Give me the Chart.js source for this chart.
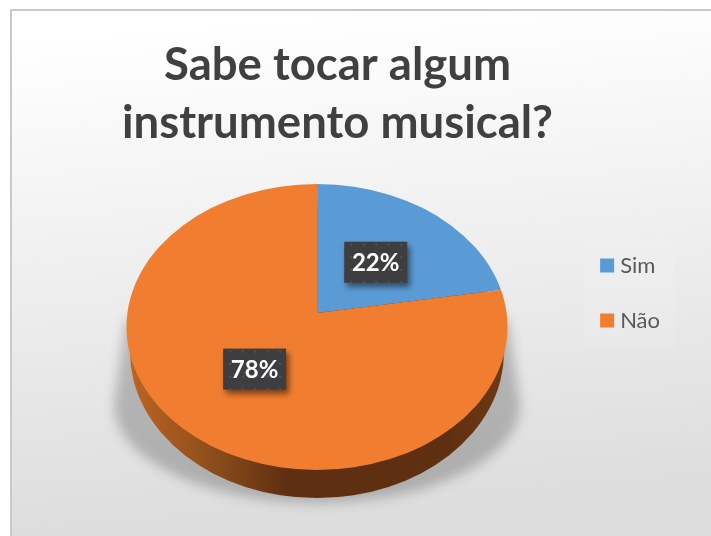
<!DOCTYPE html>
<html><head><meta charset="utf-8">
<style>html,body{margin:0;padding:0;background:#fff}canvas{display:block}</style>
<script src="https://cdn.jsdelivr.net/npm/chart.js@4"></script>
</head><body>
<div style="width:711px;height:536px"><canvas id="c" width="711" height="536"></canvas></div>
<script>
const categories = ['Sim', 'Não'];
const seriesValues = [22, 78];
const sliceColors = ['#5b9bd5', '#f17e30'];
const titleLines = ['Sabe tocar algum', 'instrumento musical?'];

const PIE = {cy: 313, sy: 0.66, rimCx: 317, rimCy: 327, rimRx: 190.5, rimRy: 143};
const labelRadii = [92, 98];

const scene = {
  id: 'scene',
  beforeDraw(chart) {
    const c = chart.ctx;
    c.save();
    c.fillStyle = '#fff'; c.fillRect(0, 0, 711, 536);
    const g = c.createLinearGradient(0, 40, 40, 536);
    g.addColorStop(0, '#ffffff'); g.addColorStop(0.5, '#eeeeee'); g.addColorStop(1, '#dddddd');
    c.fillStyle = g; c.fillRect(11, 10, 700, 526);
    c.fillStyle = '#c9c9c9';
    c.fillRect(10, 9, 701, 2);
    c.fillRect(10, 9, 2, 527);
    c.fillStyle = 'rgba(255,255,255,0.1)';
    c.fillRect(584, 238, 91, 111);
    c.restore();
  },
  beforeDatasetsDraw(chart) {
    const c = chart.ctx;
    const area = chart.getDatasetMeta(0).data[0];
    // soft floor shadow
    c.save();
    c.filter = 'blur(6px)';
    c.fillStyle = 'rgba(0,0,0,0.22)';
    c.beginPath();
    c.moveTo(126, 320); c.lineTo(114, 405);
    c.ellipse(317, 405, 203, 98, 0, Math.PI, 0, true);
    c.lineTo(508, 320); c.closePath(); c.fill();
    c.restore();
    // side wall
    c.save();
    const s = c.createLinearGradient(130, 0, 505, 0);
    s.addColorStop(0, '#bd6323'); s.addColorStop(0.2, '#91501c');
    s.addColorStop(0.42, '#5f2f11'); s.addColorStop(0.85, '#5f2f11'); s.addColorStop(1, '#6e3a14');
    c.fillStyle = s;
    c.beginPath();
    c.ellipse(317, 352, 187, 146, 0, 0, Math.PI * 2);
    c.fill();
    c.restore();
    // top face: slices are clipped to the rim and squashed
    c.save();
    c.beginPath();
    c.ellipse(PIE.rimCx, PIE.rimCy, PIE.rimRx, PIE.rimRy, 0, 0, Math.PI * 2);
    c.clip();
    c.translate(area.x, PIE.cy);
    c.scale(1, PIE.sy);
    c.translate(-area.x, -area.y);
  },
  afterDatasetsDraw(chart) {
    const c = chart.ctx;
    c.restore();
    const arcs = chart.getDatasetMeta(0).data;
    arcs.forEach((a, i) => {
      const mid = (a.startAngle + a.endAngle) / 2;
      const x = a.x + labelRadii[i] * Math.cos(mid);
      const y = PIE.cy + 1 + labelRadii[i] * 0.73 * Math.sin(mid);
      const w = 63, h = 41;
      c.save();
      c.shadowColor = 'rgba(0,0,0,0.5)'; c.shadowBlur = 6; c.shadowOffsetX = 3; c.shadowOffsetY = 4;
      c.fillStyle = '#3e3e40';
      c.fillRect(x - w / 2, y - h / 2, w, h);
      c.restore();
      c.save();
      c.fillStyle = '#545456';
      for (let px = 7; px < w; px += 12.5) for (let py = 3; py < h; py += 12.5) {
        c.fillRect(x - w / 2 + px - 1, y - h / 2 + py - 1, 2, 2);
      }
      c.fillStyle = '#fff';
      c.font = 'bold 24px Lato';
      c.textAlign = 'center'; c.textBaseline = 'middle';
      c.fillText(seriesValues[i] + '%', x, y + 1);
      c.restore();
    });
  }
};

const placement = {
  id: 'placement',
  afterLayout(chart) {
    chart.legend.top += 37;
    chart.legend.bottom += 37;
    const d = (chart.titleBlock.left + chart.titleBlock.right) / 2 - 337.5;
    chart.titleBlock.left -= d;
    chart.titleBlock.right -= d;
  }
};

new Chart(document.getElementById('c'), {
  type: 'pie',
  data: {
    labels: categories,
    datasets: [{data: seriesValues, backgroundColor: sliceColors, borderWidth: 0, radius: 260, clip: false}]
  },
  plugins: [scene, placement],
  options: {
    responsive: false,
    animation: false,
    devicePixelRatio: 1,
    layout: {padding: {top: 36, left: 62, right: 41, bottom: 60}},
    plugins: {
      tooltip: {enabled: false},
      title: {
        display: true,
        text: titleLines,
        color: '#404040',
        font: {family: 'Lato', size: 45.5, weight: 'bold', lineHeight: 1.275},
        padding: {top: 0, bottom: 10}
      },
      legend: {
        position: 'right',
        labels: {
          boxWidth: 4, boxHeight: 4, padding: 33,
          color: '#595959',
          font: {family: 'Lato', size: 22},
          generateLabels(chart) {
            const items = Chart.overrides.pie.plugins.legend.labels.generateLabels(chart);
            items.forEach(it => { it.lineWidth = 10; it.strokeStyle = it.fillStyle; });
            return items;
          }
        }
      }
    }
  }
});
</script>
</body></html>
